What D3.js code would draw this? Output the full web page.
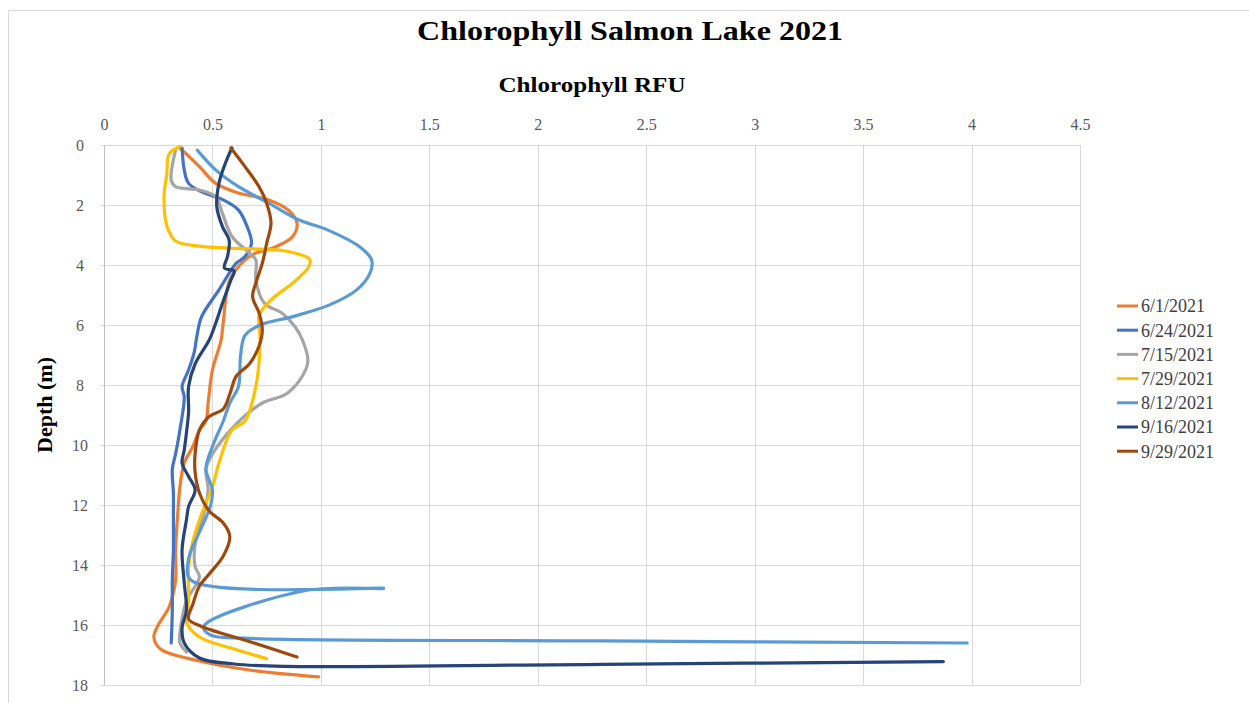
<!DOCTYPE html>
<html><head><meta charset="utf-8">
<script src="https://cdn.jsdelivr.net/npm/d3@7"></script>
<style>body{margin:0;background:#fff;} svg{display:block;} svg text{font-family:"Liberation Serif","Times New Roman",serif !important;}</style>
</head><body><svg id="c" width="1249" height="703"></svg>
<script>
// ---- data ----
const seriesNames = ["6/1/2021","6/24/2021","7/15/2021","7/29/2021","8/12/2021","9/16/2021","9/29/2021"];
const seriesColors = ["#ED7D31","#4472C4","#A5A5A5","#FFC000","#5B9BD5","#264478","#9E480E"];
const xTicks = [0,0.5,1,1.5,2,2.5,3,3.5,4,4.5];
const yTicks = [0,2,4,6,8,10,12,14,16,18];

const depth_0601 = [0.1,0.72,1.28,1.6,1.83,2.17,2.6,3.05,3.4,3.6,3.83,4.5,5.9,6.5,7.5,8.6,9.2,9.5,10.05,10.6,11.4,12.3,13.5,14.5,15.4,16.0,16.4,16.8,17.2,17.5,17.73];
const rfu_0601   = [0.35,0.44,0.515,0.62,0.76,0.85,0.89,0.87,0.79,0.70,0.65,0.58,0.55,0.54,0.50,0.48,0.47,0.44,0.41,0.37,0.35,0.34,0.33,0.33,0.30,0.25,0.23,0.26,0.44,0.67,0.99];

const depth_0624 = [0.1,0.83,1.28,1.56,1.83,2.17,2.72,3.28,3.72,3.94,4.83,5.72,6.3,6.94,7.5,8.05,8.4,9.5,10.3,10.8,11.6,12.3,13.5,14.5,15.5,16.6];
const rfu_0624   = [0.36,0.37,0.39,0.45,0.55,0.62,0.66,0.68,0.65,0.61,0.53,0.45,0.43,0.415,0.39,0.36,0.37,0.35,0.33,0.315,0.32,0.32,0.32,0.315,0.315,0.31];

const depth_0715 = [0.17,1.17,1.39,1.5,1.72,2.28,3.05,3.6,3.83,4.5,5.28,5.6,6.05,6.5,7.2,7.7,8.3,8.6,9.3,10.3,10.8,11.5,12.3,13.3,14.05,14.4,15.2,16.3,16.6,16.9];
const rfu_0715   = [0.33,0.31,0.33,0.44,0.515,0.546,0.59,0.67,0.70,0.70,0.74,0.82,0.88,0.915,0.94,0.915,0.84,0.73,0.61,0.50,0.47,0.48,0.46,0.42,0.42,0.44,0.38,0.35,0.35,0.38];

const depth_0729 = [0.05,0.3,0.94,1.7,2.7,3.2,3.38,3.44,3.55,3.83,4.1,4.6,5.2,5.7,6.5,8.05,9.2,9.5,10.6,11.4,12.3,13.2,14.05,15.2,15.9,16.4,16.8,17.12];
const rfu_0729   = [0.35,0.30,0.29,0.277,0.29,0.33,0.45,0.577,0.85,0.95,0.94,0.87,0.765,0.715,0.72,0.70,0.65,0.59,0.53,0.50,0.45,0.41,0.39,0.39,0.38,0.44,0.60,0.75];

const depth_0812 = [0.17,0.83,1.39,1.94,2.5,2.83,3.4,3.83,4.28,4.83,5.33,5.72,6.0,6.35,7.0,8.05,8.6,9.2,10.05,10.8,11.5,12.05,12.9,13.8,14.5,14.78,14.85,16.05,16.33,16.44,16.53,16.6];
const rfu_0812   = [0.43,0.515,0.62,0.76,0.90,1.03,1.18,1.234,1.226,1.165,1.04,0.87,0.72,0.65,0.63,0.62,0.58,0.55,0.50,0.47,0.50,0.49,0.44,0.39,0.40,1.29,0.93,0.46,0.49,0.65,2.3,3.98];

const depth_0916 = [0.1,0.6,1.28,2.05,2.72,3.17,3.7,4.1,4.2,4.5,5.28,5.94,6.5,7.3,8.05,8.9,9.6,10.17,10.6,11.05,11.5,12.05,12.5,13.5,14.6,15.5,16.1,16.6,17.1,17.3,17.38,17.31,17.22];
const rfu_0916   = [0.59,0.56,0.53,0.52,0.546,0.577,0.57,0.555,0.60,0.585,0.546,0.515,0.485,0.42,0.39,0.39,0.38,0.37,0.36,0.39,0.42,0.39,0.38,0.36,0.37,0.38,0.36,0.37,0.44,0.60,0.83,2.3,3.87];

const depth_0929 = [0.1,0.72,1.39,1.94,2.6,3.28,3.94,4.6,5.06,5.6,6.17,6.7,7.3,7.7,8.3,8.8,9.05,9.5,10.3,10.9,11.6,12.2,12.6,13.05,13.7,14.3,14.7,15.3,15.8,16.05,16.55,17.07];
const rfu_0929   = [0.585,0.65,0.715,0.75,0.77,0.75,0.73,0.70,0.685,0.715,0.73,0.715,0.67,0.61,0.58,0.55,0.485,0.44,0.42,0.42,0.44,0.485,0.55,0.58,0.55,0.485,0.44,0.41,0.39,0.45,0.67,0.89];

const seriesDepths = [depth_0601,depth_0624,depth_0715,depth_0729,depth_0812,depth_0916,depth_0929];
const seriesValues = [rfu_0601,rfu_0624,rfu_0715,rfu_0729,rfu_0812,rfu_0916,rfu_0929];

// ---- layout ----
const FONT = '"Liberation Serif","Times New Roman",serif';
const svg = d3.select("#c");
const L = 104, R = 1080, T = 145, B = 685;
const x = d3.scaleLinear().domain([0,4.5]).range([L,R]);
const y = d3.scaleLinear().domain([0,18]).range([T,B]);

svg.append("rect").attr("x",8.5).attr("y",10.5).attr("width",1250).attr("height",700)
  .attr("fill","#fff").attr("stroke","#d9d9d9");

// gridlines
const g = svg.append("g");
g.selectAll("line.v").data(xTicks).join("line")
  .attr("x1",d=>Math.round(x(d))+0.5).attr("x2",d=>Math.round(x(d))+0.5)
  .attr("y1",T).attr("y2",B).attr("stroke","#d9d9d9").attr("stroke-width",1);
g.selectAll("line.h").data(yTicks).join("line")
  .attr("x1",L-4).attr("x2",R)
  .attr("y1",d=>Math.round(y(d))+0.5).attr("y2",d=>Math.round(y(d))+0.5)
  .attr("stroke","#d9d9d9").attr("stroke-width",1);
g.append("line").attr("x1",L+0.5).attr("x2",L+0.5).attr("y1",T).attr("y2",B).attr("stroke","#bfbfbf");

// axes labels via d3 axes
const xAxis = d3.axisTop(x).tickValues(xTicks).tickSize(0).tickPadding(0).tickFormat(d3.format("~g"));
const xg = svg.append("g").attr("transform",`translate(0,${T-15})`).call(xAxis);
xg.attr("font-family",FONT);
xg.select(".domain").remove();
xg.selectAll("text").attr("font-size",16).attr("fill","#595959").style("font-family",FONT);

const yAxis = d3.axisLeft(y).tickValues(yTicks).tickSize(0).tickPadding(0);
const yg = svg.append("g").attr("transform",`translate(80,0)`).call(yAxis);
yg.attr("font-family",FONT);
yg.select(".domain").remove();
yg.selectAll("text").attr("text-anchor","middle").attr("font-size",16).attr("fill","#595959").style("font-family",FONT).attr("dy","0.32em");

// series
const line = d3.line().x(d=>x(d[1])).y(d=>y(d[0])).curve(d3.curveCatmullRom.alpha(0.5));
const sg = svg.append("g");
seriesNames.forEach((n,i)=>{
  const pts = seriesDepths[i].map((dp,j)=>[dp, seriesValues[i][j]]);
  sg.append("path").attr("d",line(pts)).attr("fill","none")
    .attr("stroke",seriesColors[i]).attr("stroke-width",3.2).attr("stroke-linejoin","round").attr("stroke-linecap","round");
});

// titles
svg.append("text").attr("x",630).attr("y",40).attr("text-anchor","middle")
  .attr("font-size",28).attr("font-weight","bold").attr("fill","#000").style("font-family",FONT)
  .attr("textLength",426).attr("lengthAdjust","spacingAndGlyphs")
  .text("Chlorophyll Salmon Lake 2021");
svg.append("text").attr("x",592).attr("y",92).attr("text-anchor","middle")
  .attr("font-size",22).attr("font-weight","bold").attr("fill","#000").style("font-family",FONT)
  .attr("textLength",187).attr("lengthAdjust","spacingAndGlyphs")
  .text("Chlorophyll RFU");
svg.append("text").attr("transform","translate(52,405) rotate(-90)").attr("text-anchor","middle")
  .attr("font-size",22).attr("font-weight","bold").attr("fill","#000").style("font-family",FONT)
  .text("Depth (m)");

// legend
const lg = svg.append("g");
seriesNames.forEach((n,i)=>{
  const yy = 306 + i*24.2;
  lg.append("line").attr("x1",1117).attr("x2",1138).attr("y1",yy).attr("y2",yy)
    .attr("stroke",seriesColors[i]).attr("stroke-width",3);
  lg.append("text").attr("x",1141).attr("y",yy).attr("dy","0.35em").style("font-family",FONT)
    .attr("font-size",18).attr("fill","#404040").text(n);
});
</script></body></html>
